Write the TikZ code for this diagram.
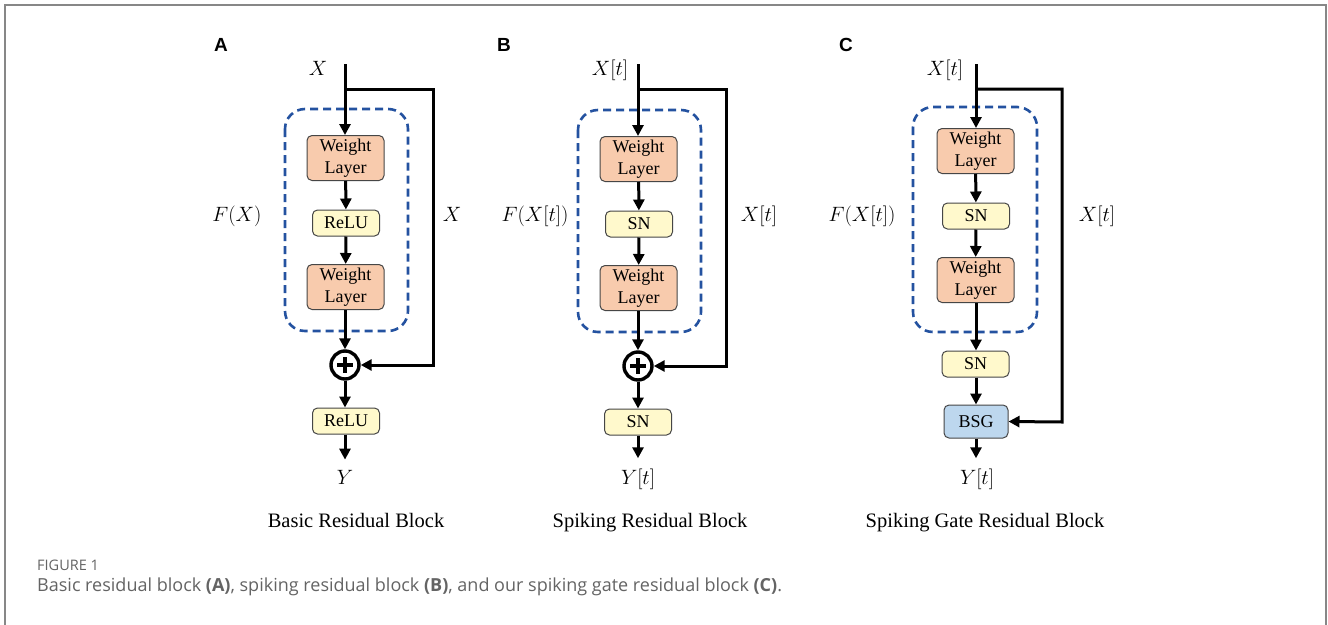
\documentclass[tikz,border=0pt]{standalone}
\usepackage{fontspec}
\setmainfont{Liberation Serif}
\newfontfamily\panelfont{Liberation Sans}
\newfontfamily\capfont{Open Sans}
\usetikzlibrary{arrows.meta}

\definecolor{wlfill}{RGB}{248,203,173}
\definecolor{actfill}{RGB}{255,249,204}
\definecolor{gatefill}{RGB}{189,215,238}
\definecolor{boxline}{RGB}{70,70,70}
\definecolor{dashblue}{RGB}{36,82,160}
\definecolor{framegray}{RGB}{135,135,135}
\definecolor{captext}{RGB}{100,100,100}

\tikzset{
  flow/.style={line width=3pt, -{Triangle[length=11pt,width=11pt]}},
  blk/.style={draw=boxline, line width=1pt, rounded corners=5pt, align=center,
              font=\fontsize{18}{21.5}\selectfont, inner sep=0pt},
  weight/.style={blk, fill=wlfill, minimum width=77pt, minimum height=45pt},
  act/.style={blk, fill=actfill, minimum width=67pt, minimum height=26pt},
  gate/.style={blk, fill=gatefill, minimum width=64pt, minimum height=33pt},
  fbox/.style={draw=dashblue, line width=2.6pt, dash pattern=on 8pt off 5pt, rounded corners=20pt},
  sumnode/.style={circle, draw, line width=3.4pt, minimum size=28pt, inner sep=0pt},
  plusbar/.style={line width=3.4pt},
  mlabel/.style={font=\fontsize{21}{22}\selectfont, inner sep=0pt, anchor=base},
  panel/.style={font=\panelfont\bfseries\fontsize{19}{20}\selectfont, inner sep=0pt},
  blocktitle/.style={font=\fontsize{20.5}{22}\selectfont, inner sep=0pt, anchor=base},
  outflow/.style={flow, shorten >=10pt},
}

\begin{document}
\begin{tikzpicture}[x=1pt, y=-1pt]
  \useasboundingbox (0,0) rectangle (1328,624);
  \fill[white] (0,0) rectangle (1328,624);
  % open frame around the figure
  \draw[framegray, line width=2pt] (4.5,630) -- (4.5,4.5) -- (1325.5,4.5) -- (1325.5,630);

  % ---------------- Panel A: basic residual block ----------------
  \node[panel] (pA) at (221,45) {A};
  \node[mlabel] (xA) at (318,75) {$X$};
  \coordinate (srcA) at (345,64);
  \coordinate (splitA) at (345,89);
  \coordinate (cornerA) at (433,365);
  \draw[fbox] (285,109) rectangle (408,331);
  \node[weight] (wA1) at (345.5,158) {Weight\\Layer};
  \node[act] (rA1) at (346,223) {ReLU};
  \node[weight] (wA2) at (345.5,287) {Weight\\Layer};
  \node[sumnode] (sA) at (345,365) {};
  \draw[plusbar] (sA.center) +(-8,0) -- +(8,0);
  \draw[plusbar] (sA.center) +(0,-8) -- +(0,8);
  \node[act] (rA2) at (346,421) {ReLU};
  \node[mlabel] (yA) at (345,484) {$Y$};
  \node[mlabel] (fA) at (237,221) {$F(X)$};
  \node[mlabel] (idA) at (452,221) {$X$};
  \draw[flow] (srcA) -- (wA1.north -| srcA);
  \draw[flow] (wA1) -- (rA1);
  \draw[flow] (rA1) -- (wA2);
  \draw[flow] (wA2.south -| sA) -- (sA);
  \draw[flow] (sA) -- (rA2.north -| sA);
  \draw[outflow] (rA2.south -| sA) -- (yA.north -| sA);
  \draw[flow] (splitA) -| (cornerA) -- (sA);
  \node[blocktitle] (tA) at (356,527) {Basic Residual Block};

  % ---------------- Panel B: spiking residual block ----------------
  \node[panel] (pB) at (504,45) {B};
  \node[mlabel] (xB) at (610,75) {$X[t]$};
  \coordinate (srcB) at (638,64);
  \coordinate (splitB) at (638,89);
  \coordinate (cornerB) at (726,366);
  \draw[fbox] (578,110) rectangle (701,332);
  \node[weight] (wB1) at (638.5,159) {Weight\\Layer};
  \node[act] (rB1) at (639,224) {SN};
  \node[weight] (wB2) at (638.5,288) {Weight\\Layer};
  \node[sumnode] (sB) at (638,366) {};
  \draw[plusbar] (sB.center) +(-8,0) -- +(8,0);
  \draw[plusbar] (sB.center) +(0,-8) -- +(0,8);
  \node[act] (rB2) at (638,422) {SN};
  \node[mlabel] (yB) at (638,484) {$Y[t]$};
  \node[mlabel] (fB) at (535,221) {$F(X[t])$};
  \node[mlabel] (idB) at (759,221) {$X[t]$};
  \draw[flow] (srcB) -- (wB1.north -| srcB);
  \draw[flow] (wB1) -- (rB1);
  \draw[flow] (rB1) -- (wB2);
  \draw[flow] (wB2.south -| sB) -- (sB);
  \draw[flow] (sB) -- (rB2.north -| sB);
  \draw[outflow] (rB2.south -| sB) -- (yB.north -| sB);
  \draw[flow] (splitB) -| (cornerB) -- (sB);
  \node[blocktitle] (tB) at (650,527) {Spiking Residual Block};

  % ---------------- Panel C: spiking gate residual block ----------------
  \node[panel] (pC) at (846,45) {C};
  \node[mlabel] (xC) at (945,75) {$X[t]$};
  \coordinate (srcC) at (976,64);
  \coordinate (splitC) at (976,89);
  \coordinate (cornerC) at (1062,422);
  \draw[fbox] (913,107) rectangle (1037,332);
  \node[weight] (wC1) at (975.5,151) {Weight\\Layer};
  \node[act] (rC1) at (976,216) {SN};
  \node[weight] (wC2) at (975.5,280) {Weight\\Layer};
  \node[act] (rC2) at (975.5,364) {SN};
  \node[gate] (gC) at (976,421.5) {BSG};
  \node[mlabel] (yC) at (977,484) {$Y[t]$};
  \node[mlabel] (fC) at (862,221) {$F(X[t])$};
  \node[mlabel] (idC) at (1097,221) {$X[t]$};
  \draw[flow] (srcC) -- (wC1.north -| srcC);
  \draw[flow] (wC1) -- (rC1);
  \draw[flow] (rC1) -- (wC2);
  \draw[flow] (wC2.south -| srcC) -- (rC2.north -| srcC);
  \draw[flow] (rC2.south -| srcC) -- (gC.north -| srcC);
  \draw[outflow] (gC.south -| srcC) -- (yC.north -| srcC);
  \draw[flow] (splitC) -| (cornerC) -- (gC.east);
  \node[blocktitle] (tC) at (985,527) {Spiking Gate Residual Block};

  % ---------------- figure caption ----------------
  \node[anchor=west, inner sep=0pt, text=captext, font=\capfont\fontsize{14.5}{16}\selectfont] (fig) at (37,565) {FIGURE 1};
  \node[anchor=west, inner sep=0pt, text=captext, font=\capfont\fontsize{18}{20}\selectfont] (cap) at (37,587)
    {Basic residual block \textbf{(A)}, spiking residual block \textbf{(B)}, and our spiking gate residual block \textbf{(C)}.};
\end{tikzpicture}
\end{document}
